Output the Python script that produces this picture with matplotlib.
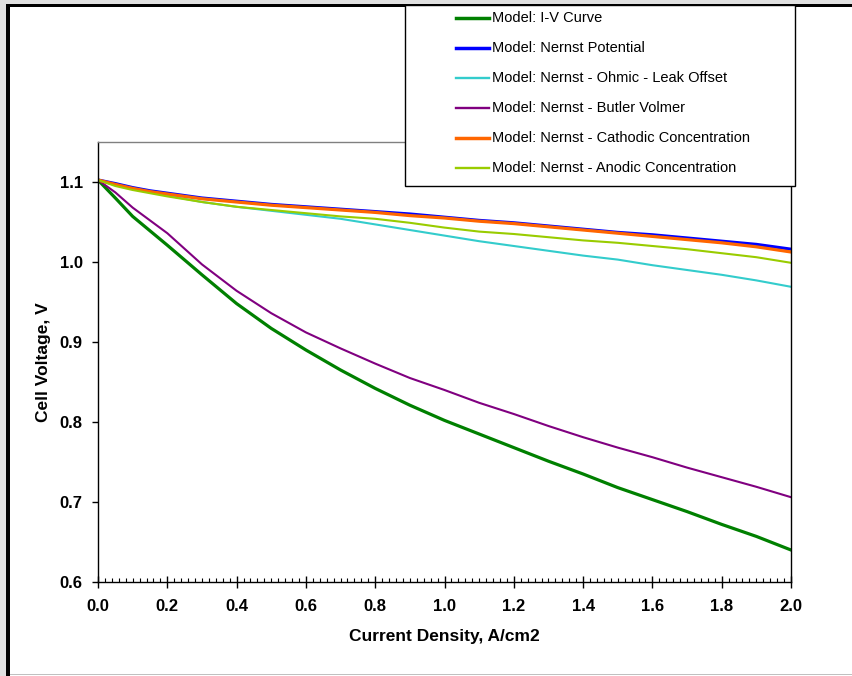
import matplotlib
matplotlib.use("Agg")
import matplotlib.pyplot as plt
from matplotlib.patches import Rectangle
from matplotlib.lines import Line2D
from matplotlib.ticker import MultipleLocator, FormatStrFormatter

plt.rcParams['font.family'] = ['Liberation Sans', 'DejaVu Sans']

# Current density, A/cm2
current = [0.0, 0.05, 0.1, 0.15, 0.2, 0.3, 0.4, 0.5, 0.6, 0.7, 0.8, 0.9, 1.0,
           1.1, 1.2, 1.3, 1.4, 1.5, 1.6, 1.7, 1.8, 1.9, 2.0]

# Cell voltage, V
iv_curve = [1.1025, 1.080, 1.057, 1.039, 1.021, 0.984, 0.948, 0.917, 0.890, 0.865, 0.842,
            0.821, 0.802, 0.785, 0.768, 0.751, 0.735, 0.718, 0.703, 0.688, 0.672, 0.657, 0.640]
nernst = [1.1025, 1.098, 1.093, 1.089, 1.086, 1.080, 1.076, 1.072, 1.069, 1.066, 1.063,
          1.060, 1.056, 1.052, 1.049, 1.045, 1.041, 1.037, 1.034, 1.030, 1.026, 1.022, 1.016]
ohmic_leak = [1.1025, 1.096, 1.091, 1.087, 1.083, 1.075, 1.069, 1.064, 1.059, 1.054, 1.047,
              1.040, 1.033, 1.026, 1.020, 1.014, 1.008, 1.003, 0.996, 0.990, 0.984, 0.977, 0.969]
butler_volmer = [1.1025, 1.087, 1.068, 1.052, 1.036, 0.997, 0.964, 0.936, 0.912, 0.892, 0.873,
                 0.855, 0.840, 0.824, 0.810, 0.795, 0.781, 0.768, 0.756, 0.743, 0.731, 0.719, 0.706]
cathodic = [1.1025, 1.097, 1.092, 1.088, 1.085, 1.079, 1.075, 1.071, 1.068, 1.065, 1.062,
            1.058, 1.055, 1.051, 1.048, 1.044, 1.040, 1.036, 1.032, 1.028, 1.024, 1.019, 1.0125]
anodic = [1.1025, 1.095, 1.090, 1.086, 1.082, 1.075, 1.069, 1.065, 1.061, 1.057, 1.054,
          1.049, 1.043, 1.038, 1.035, 1.031, 1.027, 1.024, 1.020, 1.016, 1.011, 1.006, 0.999]

series = [
    ("Model: I-V Curve", iv_curve, "#008000", 2.3),
    ("Model: Nernst Potential", nernst, "#0000FF", 2.3),
    ("Model: Nernst - Ohmic - Leak Offset", ohmic_leak, "#33CCCC", 1.5),
    ("Model: Nernst - Butler Volmer", butler_volmer, "#800080", 1.5),
    ("Model: Nernst - Cathodic Concentration", cathodic, "#FF6600", 2.3),
    ("Model: Nernst - Anodic Concentration", anodic, "#99CC00", 1.5),
]

W, H = 853, 676
fig = plt.figure(figsize=(W / 100, H / 100), dpi=100, facecolor="white")


def fx(x):
    return x / W


def fy(y):
    return 1 - y / H


# window frame: grey margin, black edge on the left and top
def px_rect(x0, y0, x1, y1, face, edge="none", lw=0, z=-10):
    fig.patches.append(Rectangle((fx(x0), fy(y1)), (x1 - x0) / W, (y1 - y0) / H,
                                 transform=fig.transFigure, facecolor=face,
                                 edgecolor=edge, linewidth=lw, zorder=z))


px_rect(0, 0, W, 4, "#E0E0E0")
px_rect(0, 0, 6, H, "#E0E0E0")
px_rect(6, 4, W, 7, "black")
px_rect(6, 4, 10, H, "black")
px_rect(10, 674, W, 675, "#C0C0C0")

ax = fig.add_axes([fx(98), fy(582), (791 - 98) / W, (582 - 142) / H])

for label, values, color, lw in series:
    ax.plot(current, values, color=color, lw=lw, label=label)

ax.set_xlim(0.0, 2.0)
ax.set_ylim(0.6, 1.15)
ax.xaxis.set_major_locator(MultipleLocator(0.2))
ax.xaxis.set_minor_locator(MultipleLocator(0.02))
ax.yaxis.set_major_locator(MultipleLocator(0.1))
ax.xaxis.set_major_formatter(FormatStrFormatter("%.1f"))
ax.yaxis.set_major_formatter(FormatStrFormatter("%.1f"))

ax.tick_params(axis="x", which="major", direction="inout", length=8, width=1,
               pad=8, labelsize=12)
ax.tick_params(axis="x", which="minor", direction="in", length=3, width=0.8)
ax.tick_params(axis="y", which="major", direction="out", length=4, width=1,
               pad=7, labelsize=12)
for lbl in ax.get_xticklabels() + ax.get_yticklabels():
    lbl.set_fontweight("bold")

for side in ("left", "bottom", "right"):
    ax.spines[side].set_color("black")
    ax.spines[side].set_linewidth(1.0)
ax.spines["top"].set_color("#808080")
ax.spines["top"].set_linewidth(1.0)

ax.set_xlabel("Current Density, A/cm2", fontsize=12.5, fontweight="bold", labelpad=11)
ax.set_ylabel("Cell Voltage, V", fontsize=12.5, fontweight="bold", labelpad=6)

# legend box, drawn above the plot area
px_rect(405, 5, 795, 186, "white", edge="black", lw=1.0, z=20)
row_y = [18, 48, 78, 108, 138, 168]
for (label, _, color, lw), y in zip(series, row_y):
    fig.add_artist(Line2D([fx(456), fx(489)], [fy(y), fy(y)], color=color,
                          lw=lw + 0.2, transform=fig.transFigure, zorder=21))
    fig.text(fx(492), fy(y), label, fontsize=10.5, va="center", ha="left",
             zorder=22)

fig.savefig("out.png", dpi=100, facecolor="white")
